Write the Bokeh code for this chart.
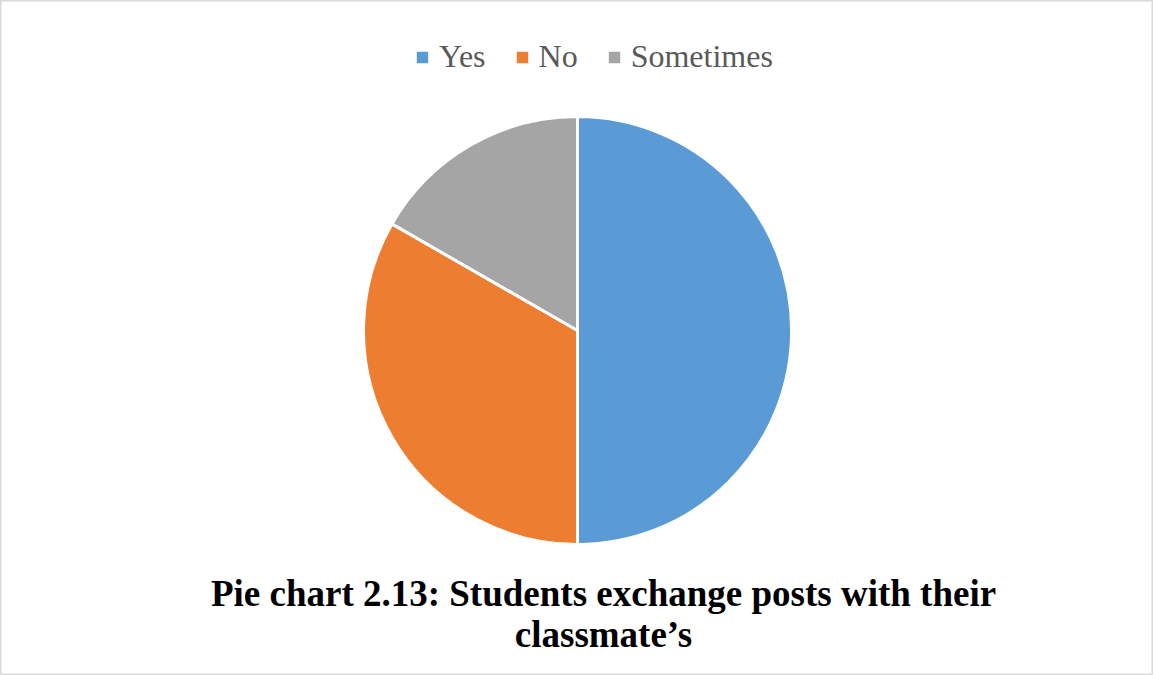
import math
from bokeh.plotting import figure
from bokeh.models import ColumnDataSource, Range1d, Legend, LegendItem, Label
from bokeh.embed import file_html
from bokeh.resources import INLINE

# Data
categories = ["Yes", "No", "Sometimes"]
values = [50.0, 33.3, 16.7]
colors = ["#5B9BD5", "#ED7D31", "#A5A5A5"]
title_lines = ["Pie chart 2.13: Students exchange posts with their", "classmate\u2019s"]

W, H = 1153, 675
total = sum(values)
starts, ends = [], []
cum = 0.0
for v in values:
    starts.append(math.pi / 2 - 2 * math.pi * cum / total)
    cum += v
    ends.append(math.pi / 2 - 2 * math.pi * cum / total)

src = ColumnDataSource(dict(label=categories, value=values, color=colors,
                            start=starts, end=ends))

p = figure(width=W, height=H, output_backend="svg", toolbar_location=None,
           x_range=Range1d(0, W), y_range=Range1d(0, H),
           x_axis_type=None, y_axis_type=None, min_border=0)
p.grid.visible = False
p.outline_line_color = "#D9D9D9"
p.outline_line_width = 2
p.background_fill_color = "white"
p.border_fill_color = "white"

cx, cy, r = 577, 345, 214
wr = p.wedge(x=cx, y=cy, radius=r, start_angle="start", end_angle="end",
             direction="clock", fill_color="color", line_color="white",
             line_width=3, source=src)

items = [LegendItem(label=c, renderers=[wr], index=i) for i, c in enumerate(categories)]
legend = Legend(items=items, orientation="horizontal", location=(413, 600),
                glyph_width=18, glyph_height=18, label_standoff=8, spacing=27,
                padding=0, margin=0, border_line_color=None,
                background_fill_alpha=0,
                label_text_font="'Liberation Serif'", label_text_font_size="32px",
                label_text_color="#595959")
p.add_layout(legend)

ys = [82, 41]
for t, y in zip(title_lines, ys):
    p.add_layout(Label(x=603, y=y, text=t, text_align="center",
                       text_baseline="alphabetic", text_font="Liberation Serif",
                       text_font_style="bold", text_font_size="37px",
                       text_color="black"))

open("out.html", "w").write(file_html(p, INLINE))
